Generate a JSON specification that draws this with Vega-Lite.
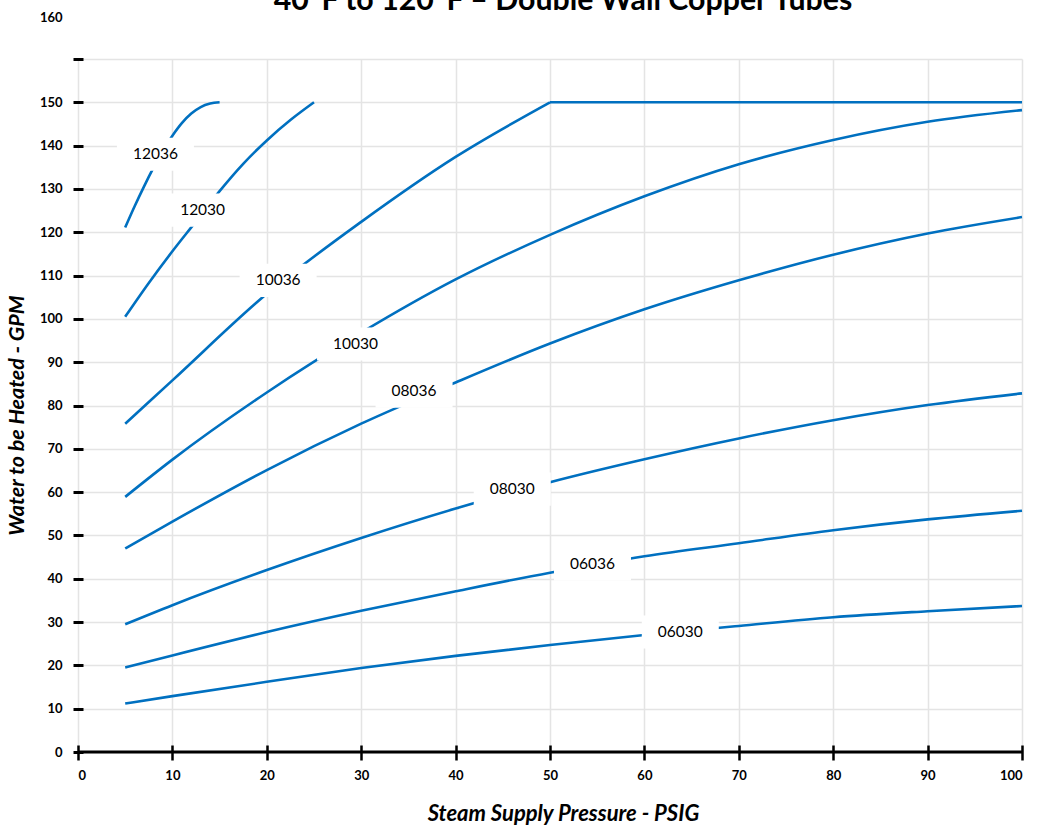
{
  "$schema": "https://vega.github.io/schema/vega-lite/v6.json",
  "autosize": "none",
  "width": 944,
  "height": 693,
  "padding": {"left": 78, "top": 59, "right": 15, "bottom": 73},
  "background": "white",
  "title": {
    "text": "40°F to 120°F – Double Wall Copper Tubes",
    "frame": "group",
    "anchor": "middle",
    "baseline": "alphabetic",
    "offset": -29,
    "dx": 13,
    "font": "Lato",
    "fontSize": 30.3,
    "fontWeight": "bold",
    "color": "black"
  },
  "config": {
    "view": {"stroke": null},
    "font": "Lato"
  },
  "datasets": {
    "curves": [
      {"model": "06030", "psig": 5, "gpm": 11.2},
      {"model": "06030", "psig": 10, "gpm": 12.9},
      {"model": "06030", "psig": 20, "gpm": 16.2},
      {"model": "06030", "psig": 30, "gpm": 19.4},
      {"model": "06030", "psig": 40, "gpm": 22.2},
      {"model": "06030", "psig": 50, "gpm": 24.7},
      {"model": "06030", "psig": 60, "gpm": 27.0},
      {"model": "06030", "psig": 70, "gpm": 29.1},
      {"model": "06030", "psig": 80, "gpm": 31.1},
      {"model": "06030", "psig": 90, "gpm": 32.5},
      {"model": "06030", "psig": 100, "gpm": 33.7},
      {"model": "06036", "psig": 5, "gpm": 19.5},
      {"model": "06036", "psig": 10, "gpm": 22.3},
      {"model": "06036", "psig": 20, "gpm": 27.7},
      {"model": "06036", "psig": 30, "gpm": 32.6},
      {"model": "06036", "psig": 40, "gpm": 37.1},
      {"model": "06036", "psig": 50, "gpm": 41.4},
      {"model": "06036", "psig": 60, "gpm": 45.2},
      {"model": "06036", "psig": 70, "gpm": 48.2},
      {"model": "06036", "psig": 80, "gpm": 51.2},
      {"model": "06036", "psig": 90, "gpm": 53.7},
      {"model": "06036", "psig": 100, "gpm": 55.7},
      {"model": "08030", "psig": 5, "gpm": 29.5},
      {"model": "08030", "psig": 10, "gpm": 33.9},
      {"model": "08030", "psig": 20, "gpm": 42.0},
      {"model": "08030", "psig": 30, "gpm": 49.4},
      {"model": "08030", "psig": 40, "gpm": 56.2},
      {"model": "08030", "psig": 50, "gpm": 62.3},
      {"model": "08030", "psig": 60, "gpm": 67.6},
      {"model": "08030", "psig": 70, "gpm": 72.4},
      {"model": "08030", "psig": 80, "gpm": 76.6},
      {"model": "08030", "psig": 90, "gpm": 80.1},
      {"model": "08030", "psig": 100, "gpm": 82.8},
      {"model": "08036", "psig": 5, "gpm": 47.0},
      {"model": "08036", "psig": 10, "gpm": 53.2},
      {"model": "08036", "psig": 20, "gpm": 65.1},
      {"model": "08036", "psig": 30, "gpm": 75.8},
      {"model": "08036", "psig": 40, "gpm": 85.3},
      {"model": "08036", "psig": 50, "gpm": 94.3},
      {"model": "08036", "psig": 60, "gpm": 102.2},
      {"model": "08036", "psig": 70, "gpm": 108.9},
      {"model": "08036", "psig": 80, "gpm": 114.8},
      {"model": "08036", "psig": 90, "gpm": 119.7},
      {"model": "08036", "psig": 100, "gpm": 123.5},
      {"model": "10030", "psig": 5, "gpm": 58.9},
      {"model": "10030", "psig": 10, "gpm": 67.5},
      {"model": "10030", "psig": 20, "gpm": 83.0},
      {"model": "10030", "psig": 30, "gpm": 96.8},
      {"model": "10030", "psig": 40, "gpm": 109.1},
      {"model": "10030", "psig": 50, "gpm": 119.4},
      {"model": "10030", "psig": 60, "gpm": 128.3},
      {"model": "10030", "psig": 70, "gpm": 135.7},
      {"model": "10030", "psig": 80, "gpm": 141.3},
      {"model": "10030", "psig": 90, "gpm": 145.5},
      {"model": "10030", "psig": 100, "gpm": 148.2},
      {"model": "10036", "psig": 5, "gpm": 75.8},
      {"model": "10036", "psig": 10, "gpm": 85.8},
      {"model": "10036", "psig": 20, "gpm": 105.8},
      {"model": "10036", "psig": 30, "gpm": 122.4},
      {"model": "10036", "psig": 40, "gpm": 137.4},
      {"model": "10036", "psig": 50, "gpm": 150},
      {"model": "10036 max", "psig": 50, "gpm": 150},
      {"model": "10036 max", "psig": 100, "gpm": 150},
      {"model": "12030", "psig": 5, "gpm": 100.5},
      {"model": "12030", "psig": 7.5, "gpm": 108.3},
      {"model": "12030", "psig": 10, "gpm": 115.6},
      {"model": "12030", "psig": 12.5, "gpm": 122.5},
      {"model": "12030", "psig": 15, "gpm": 129.5},
      {"model": "12030", "psig": 17.5, "gpm": 135.8},
      {"model": "12030", "psig": 20, "gpm": 141.2},
      {"model": "12030", "psig": 22.5, "gpm": 145.9},
      {"model": "12030", "psig": 25, "gpm": 150},
      {"model": "12036", "psig": 5, "gpm": 121.1},
      {"model": "12036", "psig": 6, "gpm": 126.0},
      {"model": "12036", "psig": 7, "gpm": 130.6},
      {"model": "12036", "psig": 8, "gpm": 134.9},
      {"model": "12036", "psig": 9, "gpm": 138.9},
      {"model": "12036", "psig": 10, "gpm": 142.3},
      {"model": "12036", "psig": 11, "gpm": 145.2},
      {"model": "12036", "psig": 12, "gpm": 147.4},
      {"model": "12036", "psig": 13, "gpm": 148.9},
      {"model": "12036", "psig": 14, "gpm": 149.7},
      {"model": "12036", "psig": 15, "gpm": 150}
    ],
    "labels": [
      {"model": "12036", "psig": 8.2, "gpm": 138.0},
      {"model": "12030", "psig": 13.2, "gpm": 125.1},
      {"model": "10036", "psig": 21.2, "gpm": 108.9},
      {"model": "10030", "psig": 29.4, "gpm": 94.2},
      {"model": "08036", "psig": 35.6, "gpm": 83.3},
      {"model": "08030", "psig": 46.0, "gpm": 60.7},
      {"model": "06036", "psig": 54.5, "gpm": 43.4},
      {"model": "06030", "psig": 63.8, "gpm": 27.7}
    ],
    "baseline": [{"psig": 0, "gpm": 0}, {"psig": 100, "gpm": 0}]
  },
  "layer": [
    {
      "data": {"name": "curves"},
      "mark": {"type": "line", "color": "#0070c0", "strokeWidth": 2.6, "interpolate": "monotone"},
      "encoding": {
        "x": {
          "field": "psig",
          "type": "quantitative",
          "scale": {"domain": [0, 100], "nice": false, "zero": false},
          "axis": {
            "title": "Steam Supply Pressure - PSIG",
            "titleFont": "Lato",
            "titleFontSize": 22,
            "titleFontWeight": "bold",
            "titleFontStyle": "italic",
            "titleColor": "black",
            "titlePadding": 21,
            "titleX": 485,
            "values": [0, 10, 20, 30, 40, 50, 60, 70, 80, 90, 100],
            "format": "d",
            "domain": false,
            "offset": -7,
            "ticks": true,
            "tickSize": 15,
            "tickWidth": 2.5,
            "tickColor": "black",
            "labelFont": "Lato",
            "labelFontSize": 13,
            "labelFontWeight": "bold",
            "labelColor": "black",
            "labelPadding": 9,
            "grid": true,
            "gridColor": "#e4e4e4",
            "gridWidth": 1.5
          }
        },
        "y": {
          "field": "gpm",
          "type": "quantitative",
          "scale": {"domain": [0, 160], "nice": false, "zero": true},
          "axis": {
            "title": "Water to be Heated - GPM",
            "titleFont": "Lato",
            "titleFontSize": 21.5,
            "titleFontWeight": "bold",
            "titleFontStyle": "italic",
            "titleColor": "black",
            "titlePadding": 11,
            "titleY": 356,
            "values": [0, 10, 20, 30, 40, 50, 60, 70, 80, 90, 100, 110, 120, 130, 140, 150, 160],
            "format": "d",
            "domain": false,
            "offset": -5,
            "tickSize": 10,
            "tickWidth": 3,
            "tickColor": "black",
            "labelFont": "Lato",
            "labelFontSize": 13,
            "labelFontWeight": "bold",
            "labelColor": "black",
            "labelPadding": 11,
            "labelOffset": {"condition": {"test": "datum.value == 160", "value": -42}, "value": 0},
            "grid": true,
            "gridColor": "#e4e4e4",
            "gridWidth": 1.5
          }
        },
        "detail": {"field": "model"}
      }
    },
    {
      "data": {"name": "baseline"},
      "mark": {"type": "line", "color": "black", "strokeWidth": 3},
      "encoding": {
        "x": {"field": "psig", "type": "quantitative"},
        "y": {"field": "gpm", "type": "quantitative"}
      }
    },
    {
      "data": {"name": "labels"},
      "mark": {"type": "point", "shape": "M-1,-0.43L1,-0.43L1,0.43L-1,0.43Z", "size": 5929, "filled": true, "fill": "white", "opacity": 1, "strokeWidth": 0},
      "encoding": {
        "x": {"field": "psig", "type": "quantitative"},
        "y": {"field": "gpm", "type": "quantitative"}
      }
    },
    {
      "data": {"name": "labels"},
      "mark": {"type": "text", "font": "Lato", "fontSize": 15.5, "color": "black", "align": "center", "baseline": "middle"},
      "encoding": {
        "x": {"field": "psig", "type": "quantitative"},
        "y": {"field": "gpm", "type": "quantitative"},
        "text": {"field": "model"}
      }
    }
  ]
}
